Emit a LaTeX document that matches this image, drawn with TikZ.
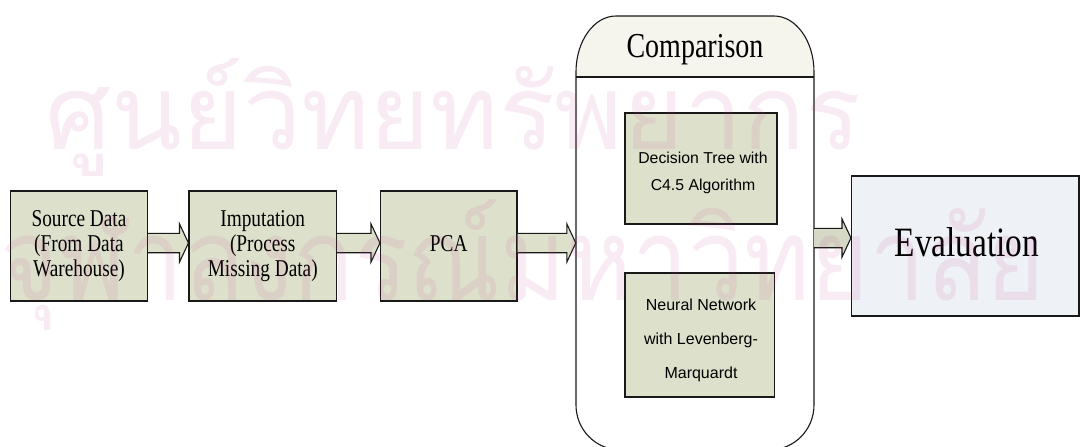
\documentclass[tikz,border=0pt]{standalone}
\usepackage{fontspec}
\setmainfont{Liberation Serif}
\newfontfamily\arialf{Liberation Sans}
\newfontfamily\thaifont[Script=Thai]{Loma}
\usetikzlibrary{calc}

\definecolor{boxfill}{RGB}{221,225,204}
\definecolor{evalfill}{RGB}{238,241,246}
\definecolor{headfill}{RGB}{245,245,237}
\definecolor{arrowdark}{RGB}{213,217,197}
\definecolor{edge}{RGB}{25,25,25}
\definecolor{wmark}{RGB}{200,60,140}

% serif labels are set slightly tall
\newcommand\tallline[1]{\scalebox{1}[1.25]{#1}}
\newcommand\tallstack[1]{\scalebox{1}[1.25]{\begin{tabular}{@{}c@{}}#1\end{tabular}}}
% watermark line: fixed width, then vertical adjustment
\newcommand\wmline[3]{\scalebox{1}[#2]{\resizebox{#1}{!}{#3}}}

% block arrow: tail coordinate #2, head touching the west side of node #3
\newcommand\blockarrow[3][]{%
  \path[barrow,#1] ($(#2)+(0,-9.7)$) -- ($(#3.west |- #2)+(-9,-9.7)$)
    -- ($(#3.west |- #2)+(-9,-19.2)$) -- (#3.west |- #2)
    -- ($(#3.west |- #2)+(-9,19.2)$) -- ($(#3.west |- #2)+(-9,9.7)$)
    -- ($(#2)+(0,9.7)$);}

\tikzset{
  procbox/.style={draw=edge, line width=1.1pt, fill=boxfill, rectangle, inner sep=0pt},
  evalbox/.style={procbox, fill=evalfill},
  seriftext/.style={font=\fontsize{19.3}{20}\selectfont, inner sep=0pt},
  sanstext/.style={align=center, inner sep=0pt},
  barrow/.style={draw=edge, line width=1.1pt, fill=boxfill, line join=miter},
  wmtext/.style={font=\thaifont\fontsize{110}{110}\selectfont, text=wmark, opacity=0.1, inner sep=0pt},
}

\begin{document}
\begin{tikzpicture}[x=1pt, y=-1pt]
\useasboundingbox (0,0) rectangle (1080,447);

% pipeline boxes
\node[procbox, minimum width=137, minimum height=110] (src) at (79,246) {};
\node[procbox, minimum width=147.5, minimum height=110] (imp) at (262.75,246) {};
\node[procbox, minimum width=136.5, minimum height=110] (pca) at (448.75,246) {};

\node[seriftext] (srct) at (79,246) {\tallstack{Source Data\\(From Data\\Warehouse)}};
\node[seriftext] (impt) at (262.75,246) {\tallstack{Imputation\\(Process\\Missing Data)}};
\node[seriftext, anchor=base] (pcat) at (448.75,251) {\tallline{PCA}};

% comparison container
\node[minimum width=238, minimum height=434, inner sep=0] (cmp) at (695,233) {};
\fill[white] (576,72) -- (576,405) .. controls (576,430) and (596,450) .. (621,450)
  -- (769,450) .. controls (794,450) and (814,430) .. (814,405) -- (814,72) -- cycle;
\fill[headfill] (576,77) -- (576,72) .. controls (576,41) and (594,16) .. (616,16)
  -- (774,16) .. controls (796,16) and (814,41) .. (814,72) -- (814,77) -- cycle;
\draw[edge, line width=1.1pt] (576,77) -- (814,77);
\draw[edge, line width=1.1pt] (576,72) -- (576,405) .. controls (576,430) and (596,450) .. (621,450)
  -- (769,450) .. controls (794,450) and (814,430) .. (814,405) -- (814,72)
  .. controls (814,41) and (796,16) .. (774,16) -- (616,16)
  .. controls (594,16) and (576,41) .. (576,72) -- cycle;
\node[font=\fontsize{28}{30}\selectfont, anchor=base, inner sep=0pt] (cmpt) at (695,57) {\tallline{Comparison}};

\node[procbox, minimum width=152, minimum height=111] (dt) at (701,168.5) {};
\node[procbox, minimum width=149.5, minimum height=124] (nn) at (699.75,335) {};
\node[sanstext, font=\arialf\fontsize{15.8}{27}\selectfont] (dtt) at (703,172.5)
  {Decision Tree with\\C4.5 Algorithm};
\node[sanstext, font=\arialf\fontsize{16}{33.6}\selectfont] (nnt) at (701,340.4)
  {Neural Network\\with Levenberg-\\Marquardt};

% evaluation
\node[evalbox, minimum width=227.5, minimum height=140] (ev) at (965.25,246) {};
\node[font=\fontsize{33.4}{36}\selectfont, anchor=base, inner sep=0pt] (evt) at (967,256.7) {\tallline{Evaluation}};

% connectors
\coordinate (t1) at ($(src.east)+(0,-3)$);
\coordinate (t2) at ($(imp.east)+(0,-3)$);
\coordinate (t3) at ($(pca.east)+(0,-3)$);
\coordinate (t4) at ($(cmp.east |- ev.west)+(0,-8)$);
\blockarrow{t1}{imp}
\blockarrow{t2}{pca}
\blockarrow{t3}{cmp}
\blockarrow[fill=arrowdark]{t4}{ev}

% watermark
\node[wmtext, anchor=base west] (wm1) at (45,149) {\wmline{816pt}{1.0}{ศูนย์วิทยทรัพยากร}};
\node[wmtext, anchor=base west] (wm2) at (0,300) {\wmline{1045pt}{1.15}{จุฬาลงกรณ์มหาวิทยาลัย}};
\end{tikzpicture}
\end{document}
